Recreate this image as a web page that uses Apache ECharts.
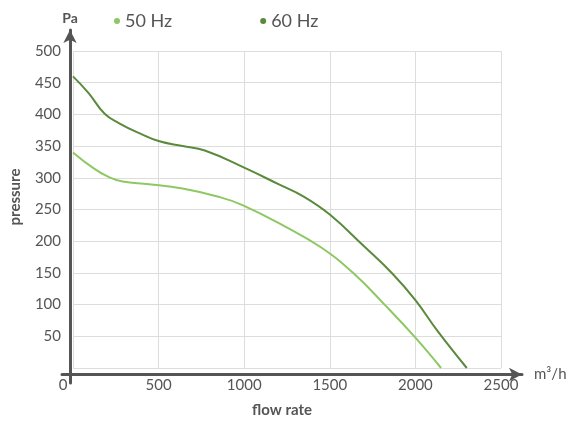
<!DOCTYPE html>
<html>
<head>
<meta charset="utf-8">
<script src="https://cdn.jsdelivr.net/npm/echarts@6/dist/echarts.min.js"></script>
<style>html,body{margin:0;padding:0;background:#fff}#c{width:571px;height:423px}</style>
</head>
<body>
<div id="c"></div>
<script>
const flow60 = [0, 90, 185, 270, 390, 500, 640, 770, 1000, 1200, 1350, 1500, 1700, 1865, 2000, 2130, 2300];
const p60 = [460, 434, 401, 386, 370, 358, 350, 343, 316, 290, 270, 242, 192, 149, 107, 58, 0];
const flow50 = [0, 115, 210, 290, 445, 640, 850, 990, 1240, 1450, 1640, 1820, 2000, 2150];
const p50 = [340, 316, 301, 294, 290, 283, 270, 257, 223, 190, 149, 100, 48, 0];
const xTicks = [0, 500, 1000, 1500, 2000, 2500];
const yTicks = [0, 50, 100, 150, 200, 250, 300, 350, 400, 450, 500];
const seriesNames = ['50 Hz', '60 Hz'];
const colors = ['#8dc863', '#5a8a3b'];

const FONT = 'Lato';
const TXT = '#555555';
const chart = echarts.init(document.getElementById('c'), null, {renderer: 'canvas'});
chart.setOption({
  animation: false,
  textStyle: {fontFamily: FONT, color: TXT},
  legend: {
    data: seriesNames,
    left: 109, top: 7,
    icon: 'circle', itemWidth: 6, itemHeight: 6, itemGap: 88,
    textStyle: {fontFamily: FONT, fontSize: 18, color: TXT}
  },
  grid: [
    {left: 70, right: 70, top: 51, bottom: 48.5},
    {left: 62, right: 49, top: 30, bottom: 40}
  ],
  xAxis: [
    {
      type: 'value', gridIndex: 0, min: xTicks[0], max: xTicks[xTicks.length - 1], interval: 500,
      axisLine: {show: false}, axisTick: {show: false},
      splitLine: {show: true, lineStyle: {color: '#dddddd', width: 1}},
      axisLabel: {
        fontFamily: FONT, fontSize: 15, color: TXT, margin: 10,
        formatter: v => v === 0 ? '{z|0}' : String(v),
        rich: {z: {fontFamily: FONT, fontSize: 15, color: TXT, padding: [0, 20, 0, 0]}}
      },
      name: 'flow rate', nameLocation: 'middle', nameGap: 35,
      nameTextStyle: {fontFamily: FONT, fontSize: 15, fontWeight: 'bold', color: TXT, padding: [0, 10, 0, 0]}
    },
    {
      type: 'value', gridIndex: 1, min: 0, max: 100, offset: -8.5,
      axisLine: {show: true, symbol: ['none', 'arrow'], symbolSize: [10, 13], lineStyle: {color: '#555555', width: 3}},
      axisTick: {show: false}, axisLabel: {show: false}, splitLine: {show: false},
      name: 'm³/h', nameLocation: 'end', nameGap: 12,
      nameTextStyle: {fontFamily: FONT, fontSize: 15, color: TXT, padding: [0, 0, 8, 0]}
    }
  ],
  yAxis: [
    {
      type: 'value', gridIndex: 0, min: yTicks[0], max: yTicks[yTicks.length - 1], interval: 50,
      axisLine: {show: false}, axisTick: {show: false},
      splitLine: {show: true, lineStyle: {color: '#dddddd', width: 1}},
      axisLabel: {fontFamily: FONT, fontSize: 15, color: TXT, margin: 12, formatter: v => v === 0 ? '' : String(v)},
      name: 'pressure', nameLocation: 'middle', nameGap: 50, nameRotate: 90,
      nameTextStyle: {fontFamily: FONT, fontSize: 15, fontWeight: 'bold', color: TXT, padding: [0, 0, 0, 25]}
    },
    {
      type: 'value', gridIndex: 1, min: 0, max: 100, offset: -8,
      axisLine: {show: true, symbol: ['none', 'arrow'], symbolSize: [10, 13], lineStyle: {color: '#555555', width: 3}},
      axisTick: {show: false}, axisLabel: {show: false}, splitLine: {show: false},
      name: 'Pa', nameLocation: 'end', nameGap: 5,
      nameTextStyle: {fontFamily: FONT, fontSize: 14, fontWeight: 'bold', color: TXT, align: 'center'}
    }
  ],
  series: [
    {
      name: seriesNames[0], type: 'line', xAxisIndex: 0, yAxisIndex: 0,
      data: flow50.map((x, i) => [x, p50[i]]),
      smooth: 0.45, showSymbol: false, symbol: 'circle', color: colors[0],
      lineStyle: {width: 2, color: colors[0]}
    },
    {
      name: seriesNames[1], type: 'line', xAxisIndex: 0, yAxisIndex: 0,
      data: flow60.map((x, i) => [x, p60[i]]),
      smooth: 0.45, showSymbol: false, symbol: 'circle', color: colors[1],
      lineStyle: {width: 2, color: colors[1]}
    }
  ]
});
</script>
</body>
</html>
